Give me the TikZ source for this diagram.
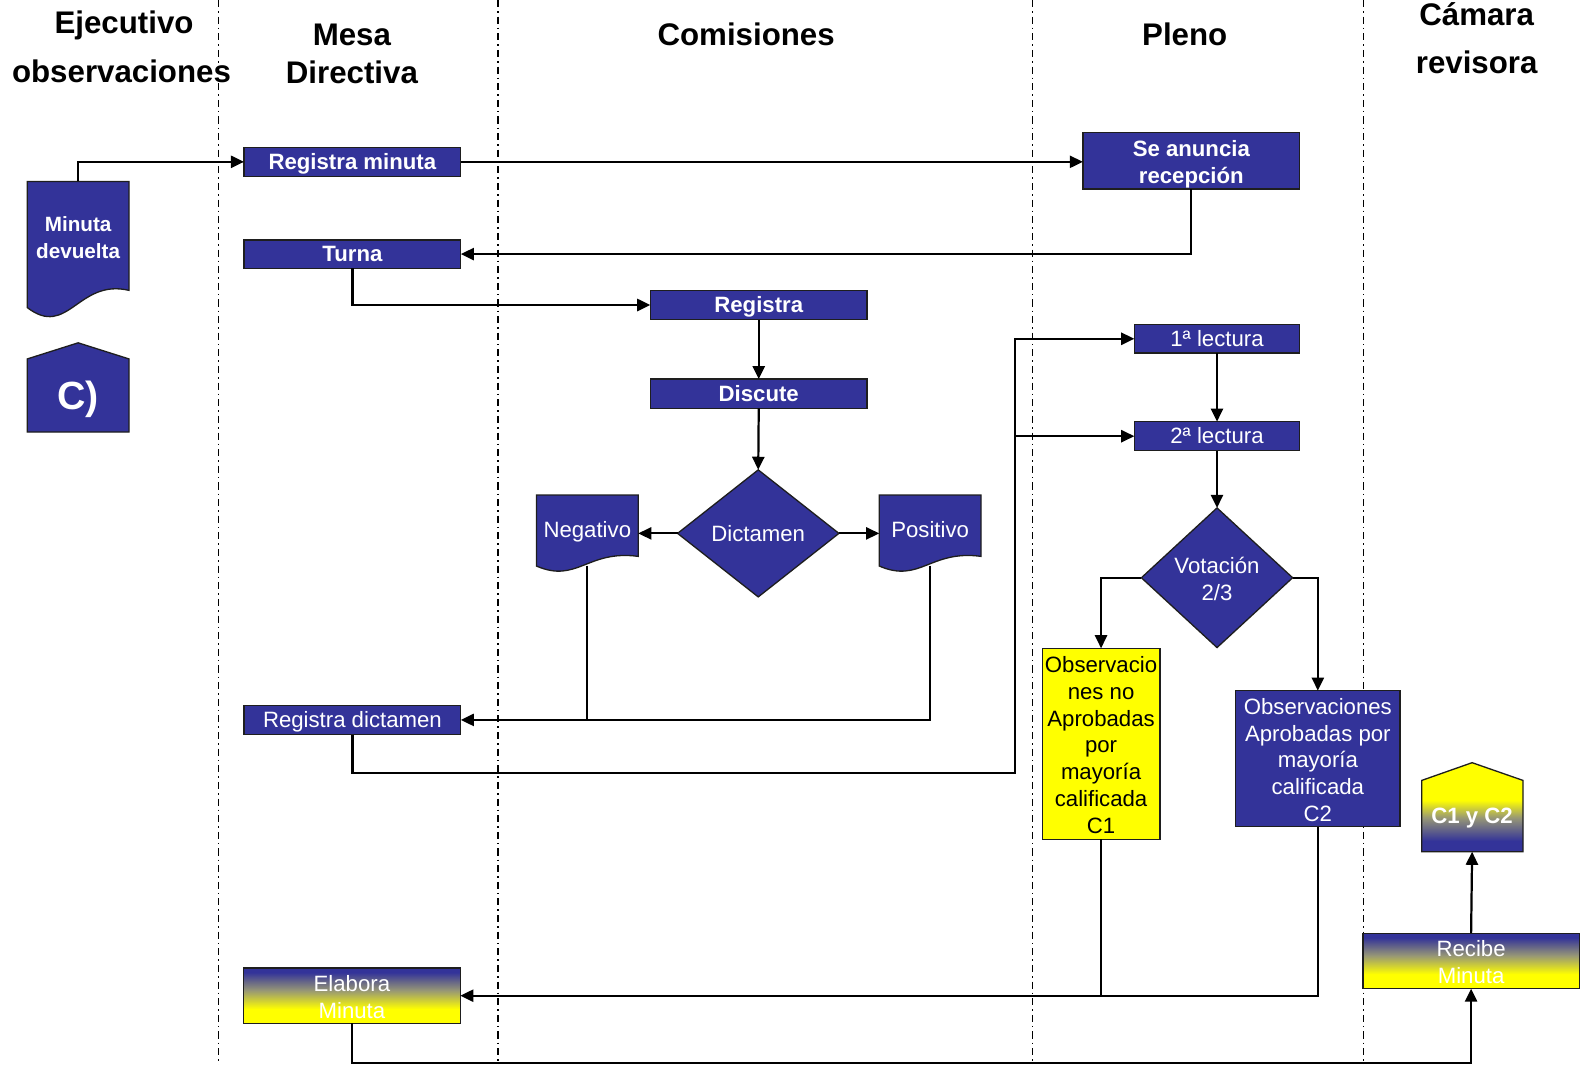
\documentclass[tikz,border=0pt]{standalone}
\usepackage{fontspec}
\setmainfont{Liberation Sans}
\usetikzlibrary{arrows.meta,shapes.geometric}

\definecolor{flblue}{HTML}{333399}
\definecolor{flyellow}{HTML}{FFFF00}
\definecolor{flmid}{RGB}{150,150,118}
\definecolor{fledge}{RGB}{30,30,30}

% blue at the top, fading to yellow at the bottom
\pgfdeclareverticalshading{bluetoyellow}{100bp}{color(0bp)=(flyellow); color(25bp)=(flyellow); color(38bp)=(flyellow); color(55bp)=(flmid); color(71bp)=(flblue); color(100bp)=(flblue)}
% yellow at the top, fading to blue at the bottom
\pgfdeclareverticalshading{yellowtoblue}{100bp}{color(0bp)=(flblue); color(31bp)=(flblue); color(44bp)=(flmid); color(54bp)=(flyellow); color(100bp)=(flyellow)}

% document symbol with a wavy lower edge: x1, x2, top, height
\newcommand\docpath[4]{(#1,#3) -- (#2,#3) -- (#2,{#3+0.8*#4})
  .. controls ({#2-0.5*(#2-#1)},{#3+0.711*#4}) and ({#1+0.4*(#2-#1)},{#3+1.156*#4}) .. (#1,{#3+0.926*#4}) -- cycle}

% ascent / descent struts for the first and last line of a text block
\newcommand\topstrut{\rule{0pt}{22.9pt}}
\newcommand\botstrut{\rule[-4.7pt]{0pt}{4.7pt}}

\begin{document}
\begin{tikzpicture}[x=1pt,y=-1pt,
  every node/.style={inner sep=0pt,outer sep=0pt},
  lane/.style={line width=1.3pt,dash pattern=on 7pt off 4pt on 1.5pt off 4pt},
  hdr/.style={anchor=base,font=\fontsize{31}{37}\selectfont\bfseries},
  bodyf/.style={font=\fontsize{22}{26.5}\selectfont},
  boldf/.style={font=\fontsize{22}{26.5}\selectfont\bfseries},
  lines1/.style={text height=19.9pt,text depth=4.7pt},
  procbox/.style={draw=fledge,line width=1.3pt,fill=flblue,text=white,align=center,minimum width=215pt},
  gradbox/.style={draw=fledge,line width=1.3pt,shade,shading=bluetoyellow,text=white,align=center,minimum width=215pt,minimum height=55pt,bodyf},
  decide/.style={diamond,draw=fledge,line width=1.3pt,fill=flblue,text=white,align=center,bodyf},
  symfill/.style={draw=fledge,line width=1.3pt,fill=flblue},
  symtext/.style={text=white,align=center},
  conn/.style={line width=2.2pt},
  arr/.style={conn,-{Triangle[length=13pt,width=12pt]}}
]
\useasboundingbox (0,0) rectangle (1568,1056);

% swimlane separators
\foreach \lx in {217,494,1024,1352}
  \draw[lane] (\lx,0) -- (\lx,1056);

% lane headings
\node[hdr] (hEjec1) at (123,33) {Ejecutivo};
\node[hdr] (hEjec2) at (120.5,82.3) {observaciones};
\node[hdr] (hMesa1) at (349,45.5) {Mesa};
\node[hdr] (hMesa2) at (349,83) {Directiva};
\node[hdr] (hCom) at (740,45.5) {Comisiones};
\node[hdr] (hPleno) at (1175,45.5) {Pleno};
\node[hdr] (hCam1) at (1464.5,25) {Cámara};
\node[hdr] (hCam2) at (1464.5,73) {revisora};

% Ejecutivo: returned document and off-page connector
\path[symfill] \docpath{27}{128}{180}{135};
\node[symtext,font=\fontsize{20.5}{26.5}\selectfont\bfseries] (mdev) at (77.5,236) {Minuta\\devuelta};
\coordinate (mdevtop) at (77.7,180);
\path[symfill] (27,428.5) -- (27,356) -- (77.5,340) -- (128,356) -- (128,428.5) -- cycle;
\node[symtext,font=\fontsize{39}{44}\selectfont\bfseries,text height=35.3pt,text depth=8.3pt] (cpar) at (77.5,393) {C)};

% Mesa Directiva
\node[procbox,boldf,lines1,minimum height=29pt] (regmin) at (349.5,160.5) {Registra minuta};
\node[procbox,boldf,lines1,minimum height=28pt] (turna) at (349.5,252) {Turna};
\node[procbox,bodyf,lines1,minimum height=29pt] (regdic) at (349.5,714) {Registra dictamen};
\node[gradbox] (elab) at (349,987.5) {\topstrut Elabora\\Minuta\botstrut};

% Comisiones
\node[procbox,boldf,lines1,minimum height=29pt] (regis) at (752.5,302.5) {Registra};
\node[procbox,boldf,lines1,minimum height=29pt] (discu) at (752.5,390.5) {Discute};
\node[decide,lines1,minimum width=160pt,minimum height=126pt] (dict) at (752,529) {Dictamen};
\path[symfill] \docpath{532}{633}{491}{76};
\node[symtext,bodyf,lines1,minimum width=101pt] (neg) at (582.5,525) {Negativo};
\path[symfill] \docpath{872}{973}{491}{76};
\node[symtext,bodyf,lines1,minimum width=101pt] (pos) at (922.5,525) {Positivo};
\coordinate (negbot) at (582.5,561);
\coordinate (posbot) at (922.5,561);

% Pleno
\node[procbox,boldf,minimum height=56pt] (anun) at (1181.5,159.3) {\topstrut Se anuncia\\recepción\botstrut};
\node[procbox,bodyf,lines1,minimum width=164pt,minimum height=28.5pt] (lec1) at (1207,336) {1ª lectura};
\node[procbox,bodyf,lines1,minimum width=164pt,minimum height=28.8pt] (lec2) at (1207,432.6) {2ª lectura};
\node[decide,minimum width=150pt,minimum height=136pt] (vot) at (1207,573) {\topstrut Votación\\2/3\botstrut};
\node[draw=fledge,line width=1.3pt,fill=flyellow,text=black,align=center,bodyf,
      minimum width=116.7pt,minimum height=189.4pt] (obs1) at (1092,737.7)
      {\topstrut Observacio\\nes no\\Aprobadas\\por\\mayoría\\calificada\\C1\botstrut};
\node[procbox,bodyf,minimum width=162.7pt,minimum height=135pt] (obs2) at (1307,752.5)
      {\topstrut Observaciones\\Aprobadas por\\mayoría\\calificada\\C2\botstrut};

% Cámara revisora
\node[gradbox,minimum width=214.5pt] (recib) at (1459,953) {\topstrut Recibe\\Minuta\botstrut};
\path[draw=fledge,line width=1.3pt,shade,shading=yellowtoblue]
  (1410,844.7) -- (1410,774) -- (1460,756.4) -- (1510.5,774) -- (1510.5,844.7) -- cycle;
\node[symtext,boldf,lines1,minimum width=100.5pt,minimum height=70.7pt] (c12) at (1460,809.35) {C1 y C2};

% flow
\coordinate (runA) at (1007,767);
\coordinate (runB) at (0,1054);
\draw[arr] (mdevtop) |- (regmin.west);
\draw[arr] (regmin.east) -- (regmin.east -| anun.west);
\draw[arr] (anun.south) |- (turna.east);
\draw[arr] (turna.south) |- (regis.west);
\draw[arr] (regis.south) -- (discu.north);
\draw[arr] (discu.south) -- (dict.north);
\draw[arr] (dict.west) -- (dict.west -| neg.east);
\draw[arr] (dict.east) -- (dict.east -| pos.west);
\draw[conn] (negbot) -- (negbot |- regdic.east);
\draw[arr] (posbot) |- (regdic.east);
\draw[arr] (regdic.south) |- (runA) |- (lec1.west);
\draw[arr] (runA |- lec2.west) -- (lec2.west);
\draw[arr] (lec1.south) -- (lec2.north);
\draw[arr] (lec2.south) -- (vot.north);
\draw[arr] (vot.west) -| (obs1.north);
\draw[arr] (vot.east) -| (obs2.north);
\draw[conn] (obs1.south) -- (obs1.south |- elab.east);
\draw[arr] (obs2.south) |- (elab.east);
\draw[arr] (elab.south) |- (recib.south |- runB) -- (recib.south);
\draw[arr] (recib.north) -- (c12.south);
\end{tikzpicture}
\end{document}
